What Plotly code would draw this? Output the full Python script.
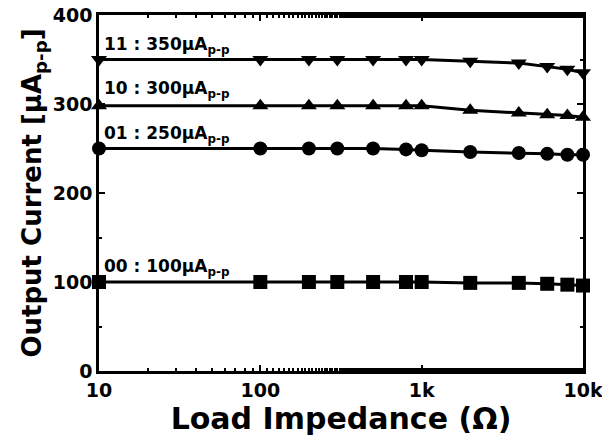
import plotly.graph_objects as go

impedance = [10, 100, 200, 300, 500, 800, 1000, 2000, 4000, 6000, 8000, 10000]
i_00 = [100, 100, 100, 100, 100, 100, 100, 99, 99, 98, 97, 96]
i_01 = [250, 250, 250, 250, 250, 249, 248, 246, 245, 244, 243, 243]
i_10 = [298, 298, 298, 298, 298, 298, 298, 293, 290, 288, 287, 285]
i_11 = [350, 350, 350, 350, 350, 350, 350, 348, 346, 342, 339, 335]

series = [
    ("00 : 100μA<sub>p-p</sub>", i_00, "square", 100),
    ("01 : 250μA<sub>p-p</sub>", i_01, "circle", 250),
    ("10 : 300μA<sub>p-p</sub>", i_10, "triangle-up", 300),
    ("11 : 350μA<sub>p-p</sub>", i_11, "triangle-down", 350),
]

x_tickvals = [10, 100, 1000, 10000]
x_ticktext = ["10", "100", "1k", "10k"]
y_tickvals = [0, 100, 200, 300, 400]

FONT = "DejaVu Sans, Liberation Sans, Arial, sans-serif"

fig = go.Figure()
for name, ys, sym, lab in series:
    fig.add_trace(go.Scatter(
        x=impedance, y=ys, mode="lines+markers", name=name,
        line=dict(color="black", width=3),
        marker=dict(symbol=sym, size=14, color="black"),
        cliponaxis=False, showlegend=False,
    ))
    fig.add_annotation(
        x=1.02, y=lab, xref="x", yref="y", text=name,
        showarrow=False, xanchor="left", yanchor="bottom", yshift=1,
        font=dict(family=FONT, size=17, color="black", weight="bold"),
    )

fig.update_layout(
    width=602, height=443,
    margin=dict(l=99, r=19, t=15, b=72),
    paper_bgcolor="white", plot_bgcolor="white",
    font=dict(family=FONT, color="black", weight="bold"),
)
fig.update_xaxes(
    type="log", range=[1, 4], automargin=False,
    tickvals=x_tickvals, ticktext=x_ticktext, ticklabeloverflow="allow",
    ticks="inside", ticklen=6, tickwidth=2, tickcolor="black",
    minor=dict(ticks="inside", ticklen=3, tickwidth=2, tickcolor="black"),
    showline=True, linecolor="black", linewidth=2.5, mirror="ticks",
    showgrid=False, zeroline=False,
    tickfont=dict(family=FONT, size=19, color="black", weight="bold"),
    title=dict(text="Load Impedance (Ω)", standoff=2,
               font=dict(family=FONT, size=30, color="black", weight="bold")),
)
fig.update_yaxes(
    range=[0, 400], tickvals=y_tickvals, automargin=False, ticklabeloverflow="allow",
    ticks="inside", ticklen=6, tickwidth=2, tickcolor="black",
    minor=dict(ticks="inside", ticklen=3, tickwidth=2, tickcolor="black", dtick=50),
    showline=True, linecolor="black", linewidth=2.5, mirror="ticks",
    showgrid=False, zeroline=False,
    tickfont=dict(family=FONT, size=19, color="black", weight="bold"),
    title=dict(text="Output Current [μA<sub>p-p</sub>]", standoff=4,
               font=dict(family=FONT, size=26, color="black", weight="bold")),
)

fig.write_html(
    "out.html",
    config={"displayModeBar": False},
    post_script="document.body.style.margin='0';document.body.style.overflow='hidden';",
)
